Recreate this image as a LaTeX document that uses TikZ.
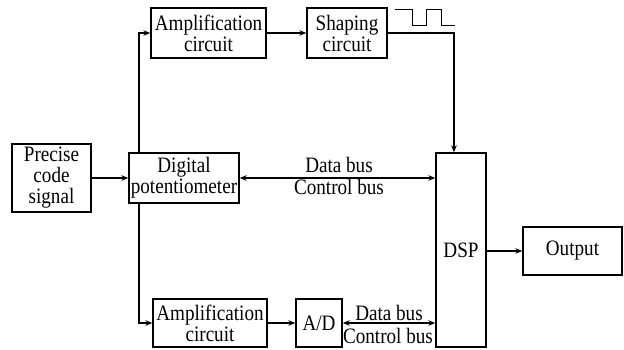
\documentclass[tikz,border=0pt]{standalone}
\usepackage{fontspec}
\setmainfont[FakeStretch=0.87]{Liberation Serif}
\usetikzlibrary{arrows.meta}
\begin{document}
\begin{tikzpicture}[x=1pt,y=-1pt,
  box/.style={draw, line width=1.3pt, inner sep=0pt, align=center,
    font=\fontsize{22}{21}\selectfont},
  conn/.style={line width=1.3pt},
  arr/.style={conn, -{Stealth[length=7pt,width=5.5pt]}},
  darr/.style={conn, {Stealth[length=7pt,width=5.5pt]}-{Stealth[length=7pt,width=5.5pt]}},
  lbl/.style={font=\fontsize{22}{22}\selectfont, inner sep=0pt, anchor=base}]
\useasboundingbox (0,0) rectangle (624,349);
\node[box, minimum width=79pt, minimum height=68pt] (prec) at (51.5,178) {Precise\\code\\signal};
\node[box, minimum width=110pt, minimum height=50pt] (dpot) at (184,178) {Digital\\potentiometer};
\node[box, minimum width=115pt, minimum height=50pt] (amp1) at (208.5,33) {Amplification\\circuit};
\node[box, minimum width=80pt, minimum height=50pt] (shape) at (347,33) {Shaping\\circuit};
\node[box, minimum width=114pt, minimum height=48pt] (amp2) at (210,323) {Amplification\\circuit};
\node[box, minimum width=46pt, minimum height=48pt] (ad) at (319,323) {A/D};
\node[box, minimum width=50pt, minimum height=194pt] (dsp) at (461,250) {DSP};
\node[box, minimum width=99pt, minimum height=48pt] (out) at (572.5,251) {Output};
\coordinate (vx) at (139,0);
% bus labels
\node[lbl] (db1) at (339,172) {Data bus};
\node[lbl] (cb1) at (339,194) {Control bus};
\node[lbl] (db2) at (389,320) {Data bus};
\node[lbl] (cb2) at (388,343) {Control bus};
% connectors
\draw[arr] (prec.east) -- (dpot.west);
\draw[arr] (dpot.north -| vx) |- (amp1.west);
\draw[arr] (dpot.south -| vx) |- (amp2.west);
\draw[arr] (amp1.east) -- (shape.west);
\draw[arr] (shape.east) -| ([xshift=-7pt]dsp.north);
\draw[darr] (dpot.east) -- (dpot.east -| dsp.west);
\draw[arr] (amp2.east) -- (ad.west);
\draw[darr] (ad.east) -- (ad.east -| dsp.west);
\draw[arr] (out.west -| dsp.east) -- (out.west);
% pulse
\draw[line width=1pt] (395,9) -- (412,9) -- (412,25) -- (426,25) -- (426,9) -- (441,9) -- (441,25) -- (455,25);
\end{tikzpicture}
\end{document}
